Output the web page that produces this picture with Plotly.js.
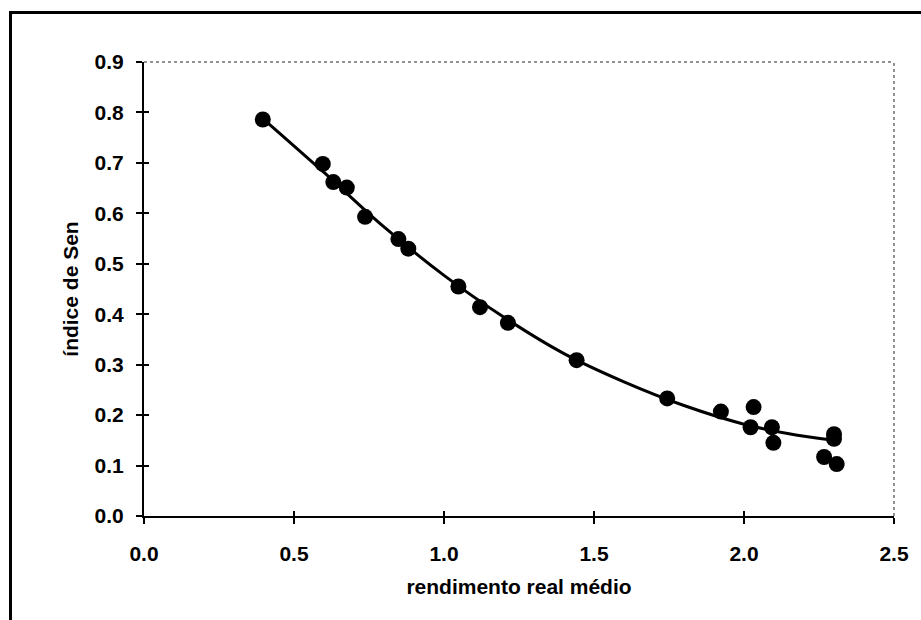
<!DOCTYPE html>
<html>
<head>
<meta charset="utf-8">
<script src="https://cdn.plot.ly/plotly-3.0.1.min.js"></script>
<style>
  html, body { margin: 0; padding: 0; background: #ffffff; }
  #chart { position: absolute; left: 0; top: 0; width: 921px; height: 620px; }
  #frame { position: absolute; left: 9px; top: 11px; width: 940px; height: 640px;
           border-left: 3px solid #000; border-top: 3px solid #000; pointer-events: none; }
</style>
</head>
<body>
<div id="chart"></div>
<div id="frame"></div>
<script>
// observed points: rendimento real médio vs índice de Sen
const rendimento = [0.396, 0.596, 0.631, 0.676, 0.737, 0.848, 0.881, 1.048, 1.120, 1.213,
                    1.442, 1.744, 1.923, 2.032, 2.022, 2.093, 2.098, 2.300, 2.300, 2.267, 2.309];
const indiceSen  = [0.786, 0.698, 0.662, 0.651, 0.593, 0.549, 0.530, 0.455, 0.414, 0.383,
                    0.309, 0.233, 0.207, 0.216, 0.176, 0.176, 0.145, 0.162, 0.153, 0.117, 0.103];

// trend curve
const curveX = [0.40, 0.60, 0.80, 1.00, 1.20, 1.40, 1.60, 1.80, 2.00, 2.15, 2.30];
const curveY = [0.786, 0.681, 0.573, 0.477, 0.394, 0.322, 0.266, 0.219, 0.182, 0.163, 0.150];

const xTicks = [0, 0.5, 1.0, 1.5, 2.0, 2.5];
const xTickText = ['0.0', '0.5', '1.0', '1.5', '2.0', '2.5'];
const yTicks = [0, 0.1, 0.2, 0.3, 0.4, 0.5, 0.6, 0.7, 0.8, 0.9];
const yTickText = ['0.0', '0.1', '0.2', '0.3', '0.4', '0.5', '0.6', '0.7', '0.8', '0.9'];

const FONT = 'Liberation Sans, Arial, sans-serif';

const traces = [
  { x: curveX, y: curveY, mode: 'lines', type: 'scatter',
    line: { color: '#000', width: 3, shape: 'spline', smoothing: 1 },
    hoverinfo: 'skip', showlegend: false },
  { x: rendimento, y: indiceSen, mode: 'markers', type: 'scatter',
    marker: { color: '#000', size: 16, line: { width: 0 } },
    showlegend: false },
  // invisible trace on overlaid axes for inner tick halves
  { x: [0], y: [0], xaxis: 'x2', yaxis: 'y2', mode: 'markers',
    marker: { opacity: 0 }, showlegend: false, hoverinfo: 'skip' }
];

const layout = {
  width: 921, height: 620,
  margin: { l: 144, r: 27, t: 62, b: 104 },
  paper_bgcolor: 'rgba(0,0,0,0)',
  plot_bgcolor: '#fff',
  font: { family: FONT, color: '#000' },
  xaxis: {
    range: [0, 2.5], tickvals: xTicks, ticktext: xTickText,
    ticks: 'outside', ticklen: 6, tickwidth: 2, tickcolor: '#000',
    showline: true, linecolor: '#000', linewidth: 2, showgrid: false, zeroline: false,
    tickfont: { family: FONT, size: 21, color: '#000', weight: 'bold' },
    ticklabelstandoff: 12,
    title: { text: 'rendimento real médio', font: { family: FONT, size: 21, color: '#000', weight: 'bold' }, standoff: 15 }
  },
  yaxis: {
    range: [0, 0.9], tickvals: yTicks, ticktext: yTickText,
    ticks: 'outside', ticklen: 6, tickwidth: 2, tickcolor: '#000',
    showline: true, linecolor: '#000', linewidth: 2, showgrid: false, zeroline: false,
    tickfont: { family: FONT, size: 21, color: '#000', weight: 'bold' },
    ticklabelstandoff: 8,
    title: { text: 'índice de Sen', font: { family: FONT, size: 21, color: '#000', weight: 'bold' }, standoff: 10 }
  },
  xaxis2: { overlaying: 'x', range: [0, 2.5], tickvals: xTicks, showticklabels: false,
            ticks: 'inside', ticklen: 5, tickwidth: 2, tickcolor: '#000',
            showline: false, showgrid: false, zeroline: false },
  yaxis2: { overlaying: 'y', range: [0, 0.9], tickvals: yTicks, showticklabels: false,
            ticks: 'inside', ticklen: 5, tickwidth: 2, tickcolor: '#000',
            showline: false, showgrid: false, zeroline: false },
  shapes: [
    { type: 'line', xref: 'paper', yref: 'paper', x0: 0, x1: 1, y0: 1, y1: 1,
      line: { color: '#6e6e6e', width: 1.5, dash: 'dot' } },
    { type: 'line', xref: 'paper', yref: 'paper', x0: 1, x1: 1, y0: 0, y1: 1,
      line: { color: '#6e6e6e', width: 1.5, dash: 'dot' } }
  ]
};

Plotly.newPlot('chart', traces, layout, { staticPlot: true, displayModeBar: false });
</script>
</body>
</html>
